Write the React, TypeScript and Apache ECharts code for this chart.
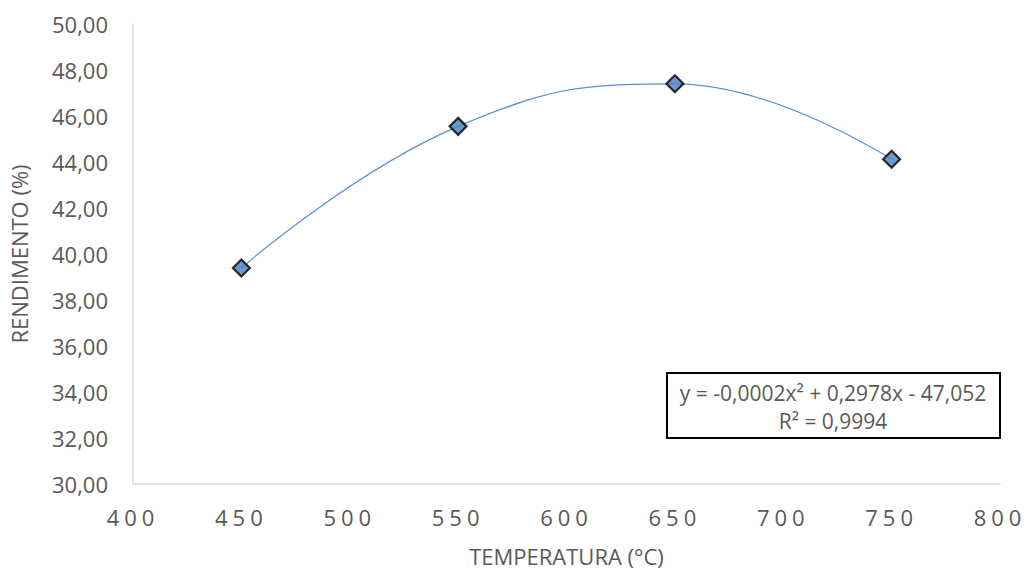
import React, { useEffect, useRef } from "react";
import * as echarts from "echarts";

const temperatures = [450, 550, 650, 750];
const yields = [39.39, 45.55, 47.4, 44.12];
const xTicks = ["400", "450", "500", "550", "600", "650", "700", "750", "800"];
const equationText = "y = -0,0002x² + 0,2978x - 47,052";
const r2Text = "R² = 0,9994";
const xTitle = "TEMPERATURA (°C)";
const yTitle = "RENDIMENTO (%)";

const FONT = "'Open Sans', 'Noto Sans', sans-serif";
const GRAY = "#595959";

export default function App() {
  const ref = useRef<HTMLDivElement>(null);
  useEffect(() => {
    if (!ref.current) return;
    const chart = echarts.init(ref.current, undefined, { renderer: "svg" });
    const pts = temperatures.map((t, i) => [t, yields[i]]);
    chart.setOption({
      animation: false,
      backgroundColor: "#ffffff",
      grid: { left: 133, right: 28, top: 24, bottom: 86 },
      xAxis: {
        type: "value",
        min: 400,
        max: 800,
        interval: 50,
        name: xTitle,
        nameLocation: "middle",
        nameGap: 61,
        nameTextStyle: { color: GRAY, fontSize: 22, fontFamily: FONT },
        axisLine: { show: true, lineStyle: { color: "#d9d9d9", width: 1.5 } },
        axisTick: { show: false },
        splitLine: { show: false },
        axisLabel: { color: GRAY, fontSize: 22, fontFamily: FONT, margin: 22 },
      },
      yAxis: {
        type: "value",
        min: 30,
        max: 50,
        interval: 2,
        name: yTitle,
        nameLocation: "middle",
        nameGap: 103,
        nameTextStyle: { color: GRAY, fontSize: 22, fontFamily: FONT },
        axisLine: { show: true, lineStyle: { color: "#d9d9d9", width: 1.5 } },
        axisTick: { show: false },
        splitLine: { show: false },
        axisLabel: {
          color: GRAY,
          fontSize: 22,
          fontFamily: FONT,
          margin: 25,
          formatter: (v: number) => v.toFixed(2).replace(".", ","),
        },
      },
      series: [
        {
          type: "line",
          data: pts,
          smooth: 0.45,
          showSymbol: false,
          symbol: "none",
          lineStyle: { color: "#5b8fd2", width: 1.2 },
          silent: true,
          z: 2,
        },
        {
          type: "scatter",
          data: pts,
          symbol: "diamond",
          symbolSize: [17, 17],
          itemStyle: { color: "#4a7ebb", borderColor: "#000000", borderWidth: 2.2 },
          silent: true,
          z: 3,
        },
      ],
      graphic: [
        {
          type: "rect",
          shape: { x: 667, y: 373, width: 333, height: 65 },
          style: { fill: "#ffffff", stroke: "#000000", lineWidth: 2 },
          z: 10,
        },
        {
          type: "text",
          x: 833,
          y: 393,
          style: {
            text: equationText,
            fill: GRAY,
            font: `21px ${FONT}`,
            align: "center",
            verticalAlign: "middle",
          },
          z: 11,
        },
        {
          type: "text",
          x: 833,
          y: 421,
          style: {
            text: r2Text,
            fill: GRAY,
            font: `21px ${FONT}`,
            align: "center",
            verticalAlign: "middle",
          },
          z: 11,
        },
      ],
    });
    // Expanded character spacing on the x tick labels, as in the original
    const texts = ref.current.querySelectorAll("text");
    texts.forEach((t) => {
      if (xTicks.includes((t.textContent || "").trim())) {
        t.setAttribute("letter-spacing", "5px");
      }
    });
    return () => chart.dispose();
  }, []);
  return (
    <div
      ref={ref}
      style={{ position: "fixed", left: 0, top: 0, width: 1028, height: 572 }}
    />
  );
}
